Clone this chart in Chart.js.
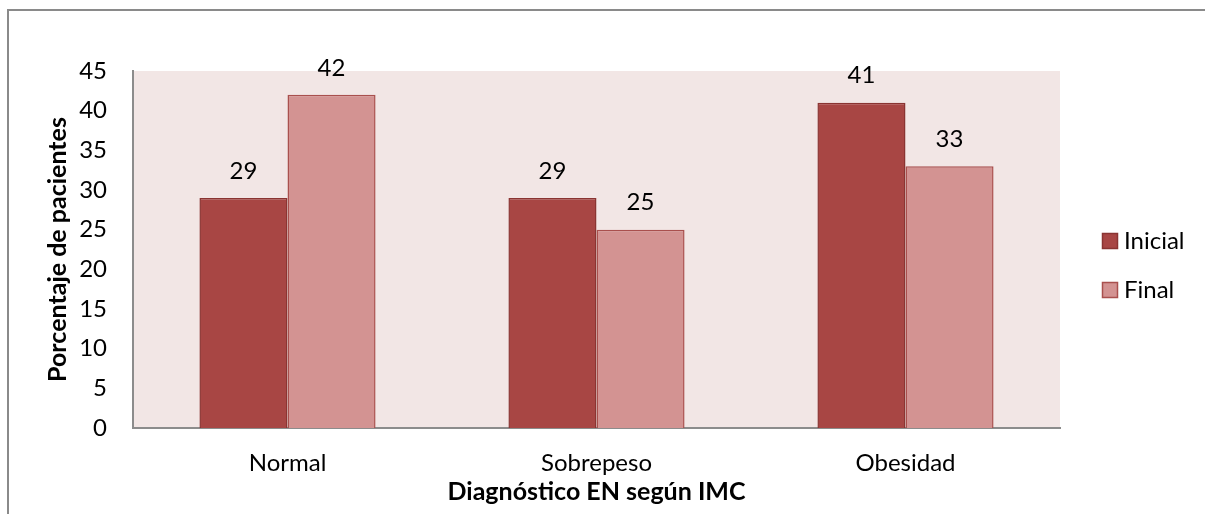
<!DOCTYPE html>
<html>
<head>
<meta charset="utf-8">
<script src="https://cdn.jsdelivr.net/npm/chart.js@4.4.1/dist/chart.umd.min.js"></script>
<style>
  html, body { margin: 0; padding: 0; background: #fff; }
  #wrap { position: relative; width: 1205px; height: 514px; }
</style>
</head>
<body>
<div id="wrap"><canvas id="imcChart" width="1205" height="514"></canvas></div>
<script>
// Diagnóstico EN según IMC - porcentaje de pacientes
const categorias = ['Normal', 'Sobrepeso', 'Obesidad'];
const inicial = [29, 29, 41];
const final = [42, 25, 33];
const yTicks = [0, 5, 10, 15, 20, 25, 30, 35, 40, 45];

const FONT = 'Lato, "Open Sans", sans-serif';

// fondo rosado del área de trazado + marco exterior
const plotBg = {
  id: 'plotBg',
  beforeDraw(chart) {
    const { ctx, chartArea: a } = chart;
    ctx.save();
    ctx.fillStyle = '#f2e6e5';
    ctx.fillRect(a.left, a.top, a.right - a.left, a.bottom - a.top);
    ctx.strokeStyle = '#8a8a8a';
    ctx.lineWidth = 2;
    ctx.strokeRect(8, 10, 1300, 600);
    ctx.restore();
  }
};

// valores encima de cada barra
const valueLabels = {
  id: 'valueLabels',
  afterDatasetsDraw(chart) {
    const { ctx } = chart;
    ctx.save();
    ctx.font = '24px ' + FONT;
    ctx.fillStyle = '#000';
    ctx.textAlign = 'center';
    ctx.textBaseline = 'middle';
    chart.data.datasets.forEach((ds, i) => {
      chart.getDatasetMeta(i).data.forEach((bar, j) => {
        ctx.fillText(ds.data[j], bar.x, bar.y - 27);
      });
    });
    ctx.restore();
  }
};

// leyenda a la derecha
const sideLegend = {
  id: 'sideLegend',
  afterDraw(chart) {
    const { ctx } = chart;
    ctx.save();
    ctx.font = '24px ' + FONT;
    ctx.textAlign = 'left';
    ctx.textBaseline = 'middle';
    chart.data.datasets.forEach((ds, i) => {
      const y = 241 + i * 49;
      ctx.fillStyle = ds.backgroundColor;
      ctx.fillRect(1102, y - 8, 16, 16);
      ctx.strokeStyle = ds.borderColor;
      ctx.lineWidth = 1.5;
      ctx.strokeRect(1102.5, y - 7.5, 15, 15);
      ctx.fillStyle = '#000';
      ctx.fillText(ds.label, 1124, y);
    });
    ctx.restore();
  }
};

new Chart(document.getElementById('imcChart'), {
  type: 'bar',
  data: {
    labels: categorias,
    datasets: [
      { label: 'Inicial', data: inicial, backgroundColor: '#a84644', borderColor: '#8a3432', borderWidth: 1.5 },
      { label: 'Final', data: final, backgroundColor: '#d39392', borderColor: '#a9504e', borderWidth: 1.5 }
    ]
  },
  options: {
    responsive: false,
    animation: false,
    layout: { padding: { top: 71, right: 145, left: 0, bottom: 0 } },
    plugins: { legend: { display: false }, tooltip: { enabled: false } },
    datasets: { bar: { barPercentage: 1, categoryPercentage: 0.57 } },
    scales: {
      x: {
        grid: { display: false, drawTicks: false },
        border: { display: true, color: '#8c8c8c', width: 2 },
        ticks: { color: '#000', font: { family: FONT, size: 24 }, padding: 21 },
        title: {
          display: true, text: 'Diagnóstico EN según IMC', color: '#000',
          font: { family: FONT, size: 25, weight: 'bold' }, padding: { top: 0, bottom: 7 }
        },
        afterFit(scale) { scale.height = 86; }
      },
      y: {
        min: 0, max: 45,
        afterBuildTicks(scale) { scale.ticks = yTicks.map(v => ({ value: v })); },
        grid: { display: false, drawTicks: false },
        border: { display: true, color: '#8c8c8c', width: 2 },
        ticks: { color: '#000', font: { family: FONT, size: 24 }, padding: 26 },
        title: {
          display: true, text: 'Porcentaje de pacientes', color: '#000',
          font: { family: FONT, size: 25, weight: 'bold' }, padding: { top: 43, bottom: 0 }
        },
        afterFit(scale) { scale.width = 133; }
      }
    }
  },
  plugins: [plotBg, valueLabels, sideLegend]
});
</script>
</body>
</html>
